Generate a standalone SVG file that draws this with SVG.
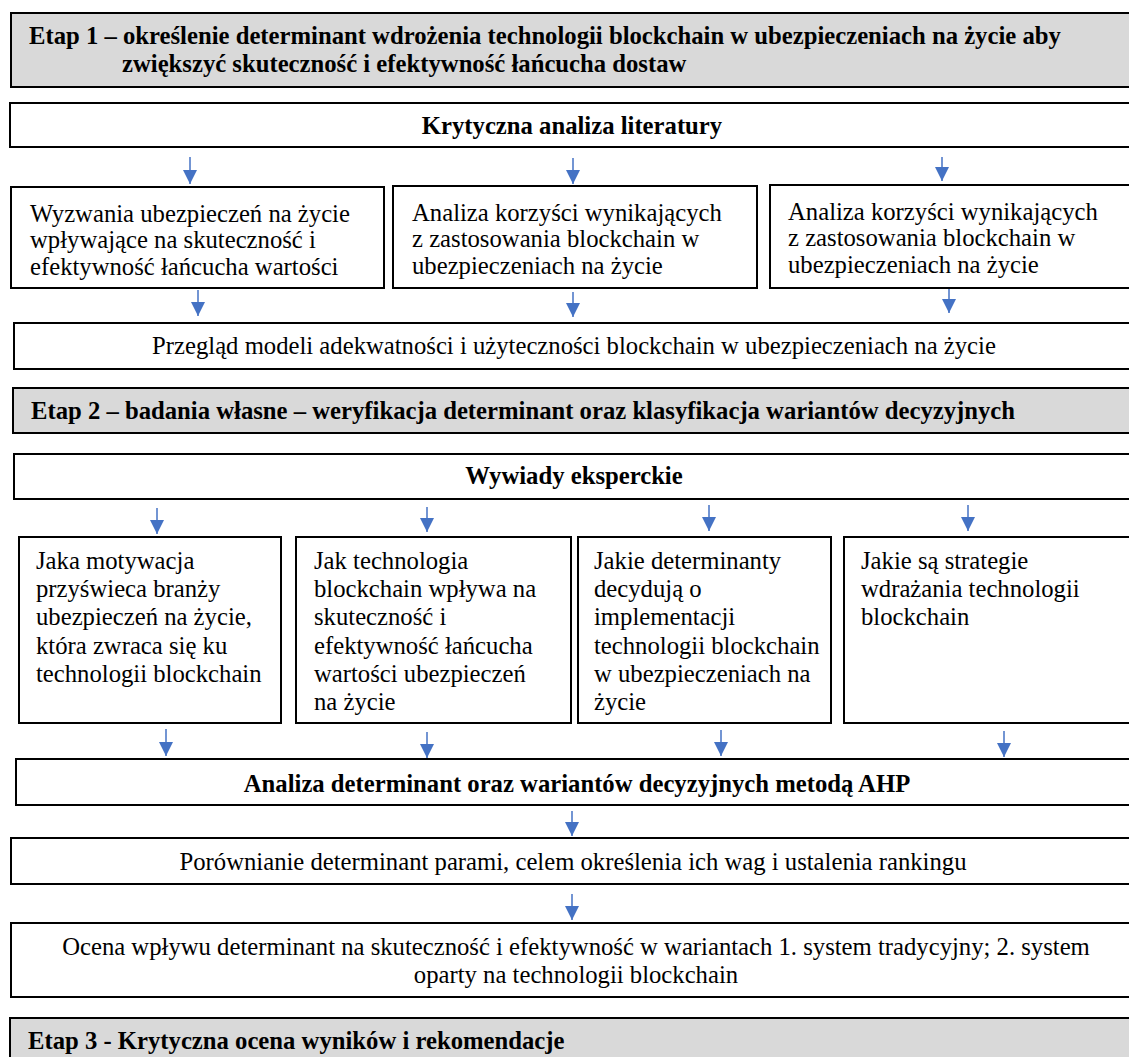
<svg xmlns="http://www.w3.org/2000/svg" width="1129" height="1057" viewBox="0 0 1129 1057">
<style>
.box{fill:#fff;stroke:#000;stroke-width:2}
.hdr{fill:#d9d9d9;stroke:#000;stroke-width:2}
text{font-family:'Liberation Serif','Times New Roman',serif;font-size:24.7px;fill:#000}
.b{font-weight:bold}
.c{text-anchor:middle}
.arr{stroke:#4472c4;stroke-width:1.5;fill:none}
</style>
<defs>
<marker id="ah" markerUnits="userSpaceOnUse" markerWidth="16" markerHeight="14" refX="14" refY="7" orient="auto">
<path d="M0,0 L14,7 L0,14 Z" fill="#4472c4"/>
</marker>
</defs>
<g id="etap1">
<rect class="hdr" x="11" y="13" width="1130" height="74"/>
<text class="b" x="29" y="44">Etap 1 – określenie determinant wdrożenia technologii blockchain w ubezpieczeniach na życie aby</text>
<text class="b" x="122" y="72">zwiększyć skuteczność i efektywność łańcucha dostaw</text>
</g>
<g id="krytyczna">
<rect class="box" x="10" y="103" width="1130" height="44"/>
<text class="b c" x="572" y="134">Krytyczna analiza literatury</text>
</g>
<g id="wyzwania">
<rect class="box" x="11" y="187" width="373" height="101"/>
<text x="30" y="222">Wyzwania ubezpieczeń na życie</text>
<text x="30" y="248">wpływające na skuteczność i</text>
<text x="30" y="275">efektywność łańcucha wartości</text>
</g>
<g id="analiza1">
<rect class="box" x="393" y="186" width="364" height="102"/>
<text x="412" y="221">Analiza korzyści wynikających</text>
<text x="412" y="247">z zastosowania blockchain w</text>
<text x="412" y="274">ubezpieczeniach na życie</text>
</g>
<g id="analiza2">
<rect class="box" x="770" y="185" width="370" height="103"/>
<text x="788" y="220">Analiza korzyści wynikających</text>
<text x="788" y="246">z zastosowania blockchain w</text>
<text x="788" y="273">ubezpieczeniach na życie</text>
</g>
<g id="przeglad">
<rect class="box" x="14" y="323" width="1130" height="46"/>
<text class="c" x="574" y="354">Przegląd modeli adekwatności i użyteczności blockchain w ubezpieczeniach na życie</text>
</g>
<g id="etap2">
<rect class="hdr" x="13" y="388" width="1130" height="45"/>
<text class="b" x="31" y="419">Etap 2 – badania własne – weryfikacja determinant oraz klasyfikacja wariantów decyzyjnych</text>
</g>
<g id="wywiady">
<rect class="box" x="14" y="454" width="1130" height="45"/>
<text class="b c" x="574" y="484">Wywiady eksperckie</text>
</g>
<g id="q1">
<rect class="box" x="19" y="537" width="262" height="186"/>
<text x="36" y="569">Jaka motywacja</text>
<text x="36" y="597">przyświeca branży</text>
<text x="36" y="625">ubezpieczeń na życie,</text>
<text x="36" y="654">która zwraca się ku</text>
<text x="36" y="682">technologii blockchain</text>
</g>
<g id="q2">
<rect class="box" x="296" y="537" width="275" height="186"/>
<text x="314" y="569">Jak technologia</text>
<text x="314" y="597">blockchain wpływa na</text>
<text x="314" y="625">skuteczność i</text>
<text x="314" y="654">efektywność łańcucha</text>
<text x="314" y="682">wartości ubezpieczeń</text>
<text x="314" y="710">na życie</text>
</g>
<g id="q3">
<rect class="box" x="578" y="537" width="253" height="186"/>
<text x="594" y="569">Jakie determinanty</text>
<text x="594" y="597">decydują o</text>
<text x="594" y="625">implementacji</text>
<text x="594" y="654">technologii blockchain</text>
<text x="594" y="682">w ubezpieczeniach na</text>
<text x="594" y="710">życie</text>
</g>
<g id="q4">
<rect class="box" x="844" y="537" width="300" height="186"/>
<text x="861" y="569">Jakie są strategie</text>
<text x="861" y="597">wdrażania technologii</text>
<text x="861" y="625">blockchain</text>
</g>
<g id="ahp">
<rect class="box" x="16" y="759" width="1130" height="46"/>
<text class="b c" x="577" y="792">Analiza determinant oraz wariantów decyzyjnych metodą AHP</text>
</g>
<g id="porownanie">
<rect class="box" x="11" y="838" width="1130" height="46"/>
<text class="c" x="573" y="870">Porównianie determinant parami, celem określenia ich wag i ustalenia rankingu</text>
</g>
<g id="ocena">
<rect class="box" x="11" y="923" width="1130" height="74"/>
<text class="c" x="576" y="955">Ocena wpływu determinant na skuteczność i efektywność w wariantach 1. system tradycyjny; 2. system</text>
<text class="c" x="576" y="983">oparty na technologii blockchain</text>
</g>
<g id="etap3">
<rect class="hdr" x="10" y="1018" width="1130" height="50"/>
<text class="b" x="28" y="1049">Etap 3 - Krytyczna ocena wyników i rekomendacje</text>
</g>
<g id="connectors" class="arr">
<line x1="190" y1="157" x2="190" y2="184" marker-end="url(#ah)"/>
<line x1="573" y1="158" x2="573" y2="184" marker-end="url(#ah)"/>
<line x1="942" y1="157" x2="942" y2="181" marker-end="url(#ah)"/>
<line x1="198" y1="290" x2="198" y2="316" marker-end="url(#ah)"/>
<line x1="573" y1="292" x2="573" y2="317" marker-end="url(#ah)"/>
<line x1="949" y1="289" x2="949" y2="313" marker-end="url(#ah)"/>
<line x1="157" y1="508" x2="157" y2="534" marker-end="url(#ah)"/>
<line x1="427" y1="507" x2="427" y2="532" marker-end="url(#ah)"/>
<line x1="709" y1="505" x2="709" y2="531" marker-end="url(#ah)"/>
<line x1="968" y1="505" x2="968" y2="531" marker-end="url(#ah)"/>
<line x1="166" y1="729" x2="166" y2="756" marker-end="url(#ah)"/>
<line x1="427" y1="732" x2="427" y2="758" marker-end="url(#ah)"/>
<line x1="721" y1="730" x2="721" y2="756" marker-end="url(#ah)"/>
<line x1="1004" y1="731" x2="1004" y2="757" marker-end="url(#ah)"/>
<line x1="572" y1="811" x2="572" y2="836" marker-end="url(#ah)"/>
<line x1="572" y1="894" x2="572" y2="920" marker-end="url(#ah)"/>
</g>
</svg>
